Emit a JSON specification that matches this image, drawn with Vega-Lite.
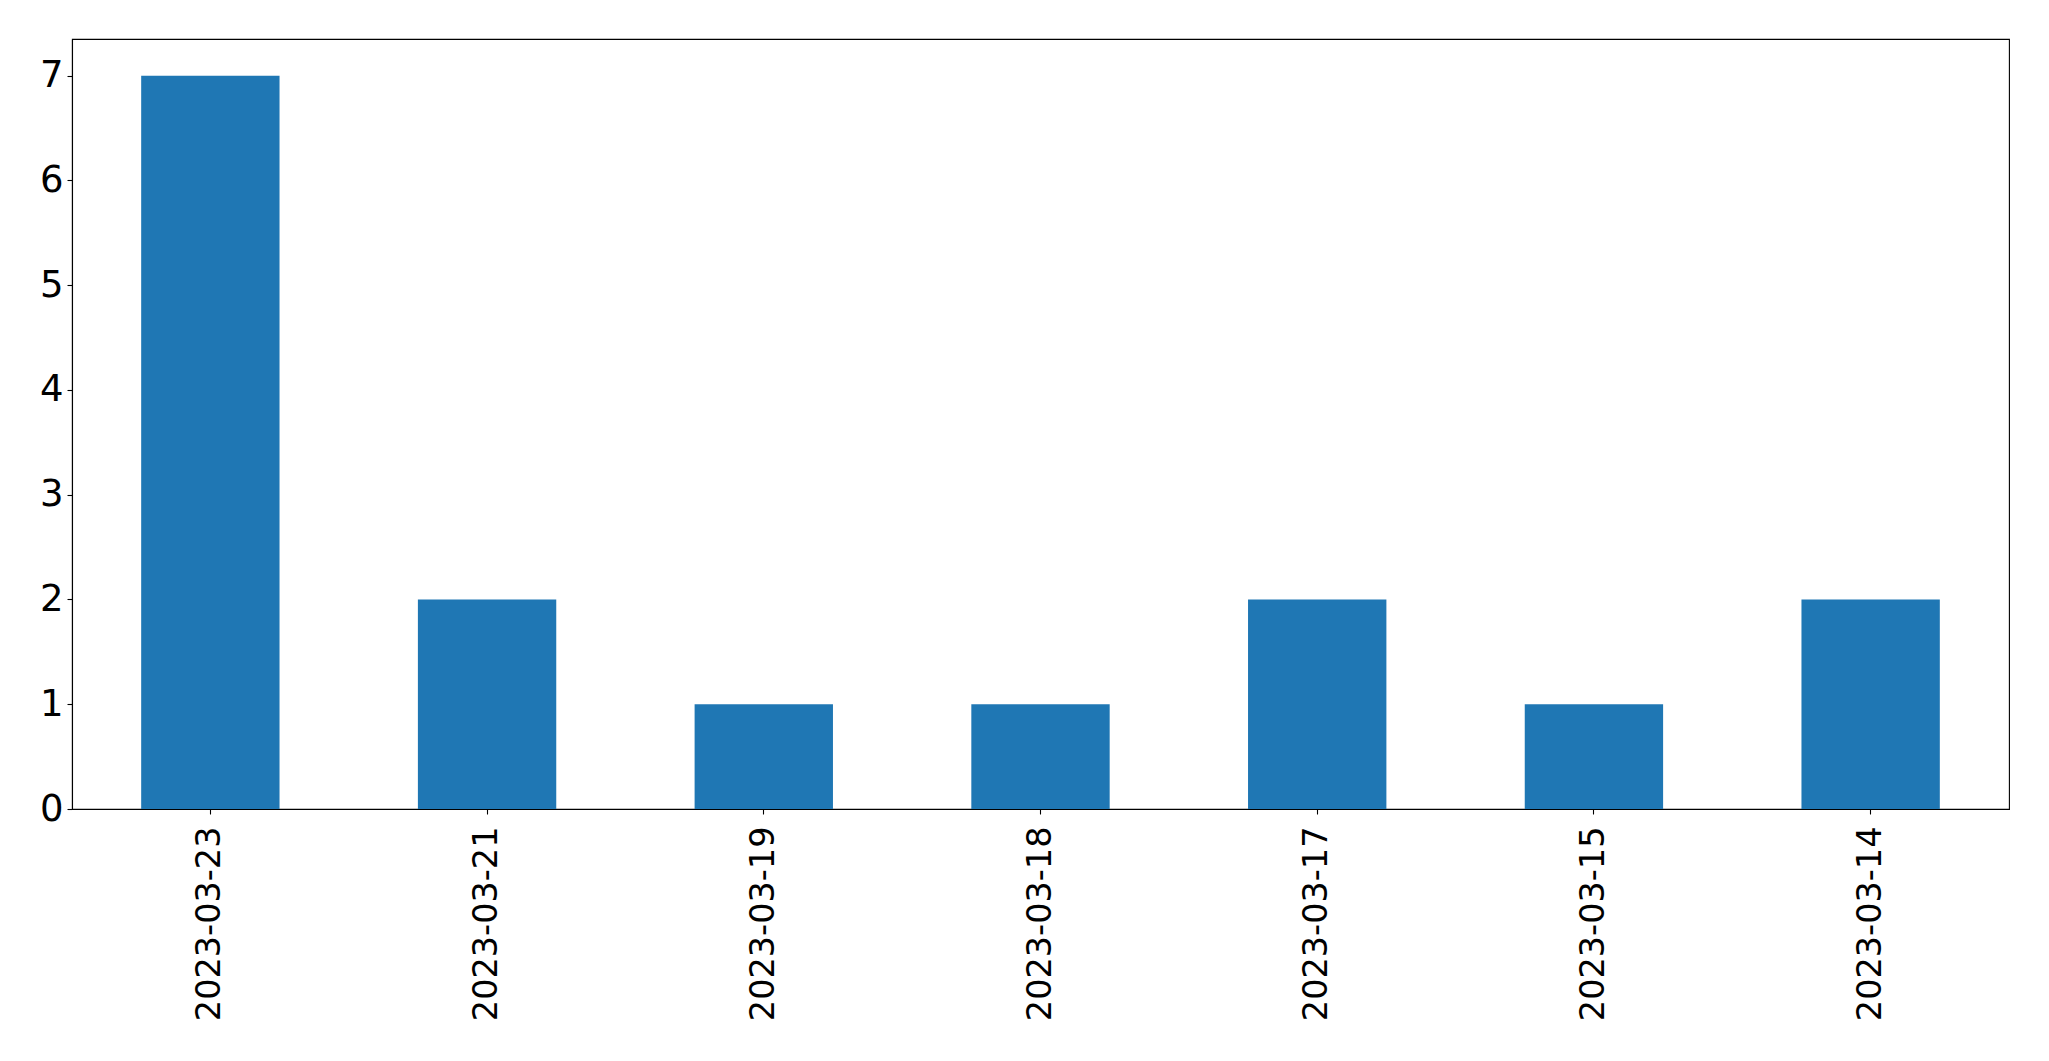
{
  "$schema": "https://vega.github.io/schema/vega-lite/v6.json",
  "width": 1937,
  "height": 770,
  "autosize": {"type": "none"},
  "padding": {"left": 72, "top": 39, "right": 40, "bottom": 252},
  "background": "white",
  "config": {
    "view": {"stroke": "black", "strokeWidth": 1.1},
    "font": "DejaVu Sans",
    "axis": {
      "labelFont": "DejaVu Sans",
      "labelFontSize": 34,
      "labelColor": "black",
      "labelLimit": 400,
      "domainColor": "black",
      "domainWidth": 1.1,
      "tickColor": "black",
      "tickWidth": 1.1,
      "tickSize": 5,
      "grid": false,
      "title": null
    }
  },
  "data": {
    "values": [
      {"date": "2023-03-23", "count": 7},
      {"date": "2023-03-21", "count": 2},
      {"date": "2023-03-19", "count": 1},
      {"date": "2023-03-18", "count": 1},
      {"date": "2023-03-17", "count": 2},
      {"date": "2023-03-15", "count": 1},
      {"date": "2023-03-14", "count": 2}
    ]
  },
  "mark": {"type": "bar", "color": "#1f77b4"},
  "encoding": {
    "x": {
      "field": "date",
      "type": "nominal",
      "sort": null,
      "scale": {"paddingInner": 0.5, "paddingOuter": 0.25},
      "axis": {"labelAngle": -90, "labelPadding": 12, "labelFontSize": 33.5, "labelAlign": "right", "labelBaseline": "middle"}
    },
    "y": {
      "field": "count",
      "type": "quantitative",
      "scale": {"domain": [0, 7.35], "nice": false},
      "axis": {"values": [0, 1, 2, 3, 4, 5, 6, 7], "labelPadding": 4, "labelFontSize": 37}
    }
  }
}
